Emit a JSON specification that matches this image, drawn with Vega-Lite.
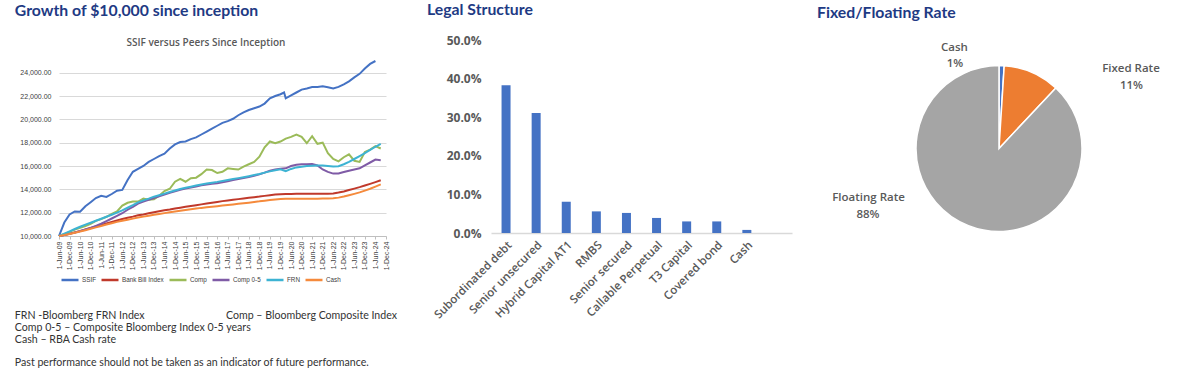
{
  "$schema": "https://vega.github.io/schema/vega-lite/v6.json",
  "background": "white",
  "padding": {"left": 14, "top": 2, "right": 5, "bottom": 5},
  "config": {
    "view": {"stroke": null},
    "font": "Open Sans",
    "title": {"font": "Lato", "fontSize": 15.8, "fontWeight": "bold", "color": "#1E3A84", "anchor": "start"}
  },
  "resolve": {"scale": {"color": "independent"}, "legend": {"color": "independent"}},
  "spacing": 29,
  "hconcat": [
    {
      "title": {"text": "Growth of $10,000 since inception", "frame": "bounds", "anchor": "start", "offset": 18},
      "vconcat": [
        {
          "title": {"text": "SSIF versus Peers Since Inception", "frame": "bounds", "anchor": "middle", "font": "Open Sans", "fontSize": 10, "fontWeight": 600, "color": "#595959", "offset": -8},
          "vconcat": [
            {
              "width": 327,
              "height": 196,
              "title": {
                "text": [
                  "FRN -Bloomberg FRN Index\u00a0\u00a0\u00a0\u00a0\u00a0\u00a0\u00a0\u00a0\u00a0\u00a0\u00a0\u00a0\u00a0\u00a0\u00a0\u00a0\u00a0\u00a0\u00a0\u00a0\u00a0\u00a0\u00a0\u00a0\u00a0\u00a0\u00a0\u00a0\u00a0\u00a0Comp \u2013 Bloomberg Composite Index",
                  "Comp 0-5 \u2013 Composite Bloomberg Index 0-5 years",
                  "Cash \u2013 RBA Cash rate"
                ],
                "subtitle": "Past performance should not be taken as an indicator of future performance.",
                "subtitleFont": "Lato", "subtitleFontSize": 10.6, "subtitleColor": "#333333", "subtitlePadding": 12,
                "orient": "bottom", "anchor": "start", "frame": "bounds", "font": "Lato", "fontSize": 10.6, "fontWeight": "normal", "color": "#333333", "offset": 41, "lineHeight": 12.2, "dx": -5
              },
              "data": {"values": [
                {"d":"2009-06-01","s":"SSIF","v":10000},{"d":"2009-09-01","s":"SSIF","v":11150},{"d":"2009-12-01","s":"SSIF","v":11850},{"d":"2010-03-01","s":"SSIF","v":12100},{"d":"2010-06-01","s":"SSIF","v":12080},{"d":"2010-09-01","s":"SSIF","v":12550},{"d":"2010-12-01","s":"SSIF","v":12900},{"d":"2011-03-01","s":"SSIF","v":13250},{"d":"2011-06-01","s":"SSIF","v":13450},{"d":"2011-09-01","s":"SSIF","v":13350},
                {"d":"2011-12-01","s":"SSIF","v":13600},{"d":"2012-03-01","s":"SSIF","v":13880},{"d":"2012-06-01","s":"SSIF","v":13950},{"d":"2012-09-01","s":"SSIF","v":14800},{"d":"2012-12-01","s":"SSIF","v":15500},{"d":"2013-03-01","s":"SSIF","v":15750},{"d":"2013-06-01","s":"SSIF","v":16000},{"d":"2013-09-01","s":"SSIF","v":16350},{"d":"2013-12-01","s":"SSIF","v":16600},{"d":"2014-03-01","s":"SSIF","v":16850},
                {"d":"2014-06-01","s":"SSIF","v":17050},{"d":"2014-09-01","s":"SSIF","v":17500},{"d":"2014-12-01","s":"SSIF","v":17850},{"d":"2015-03-01","s":"SSIF","v":18050},{"d":"2015-06-01","s":"SSIF","v":18100},{"d":"2015-09-01","s":"SSIF","v":18300},{"d":"2015-12-01","s":"SSIF","v":18450},{"d":"2016-03-01","s":"SSIF","v":18700},{"d":"2016-06-01","s":"SSIF","v":18950},{"d":"2016-09-01","s":"SSIF","v":19200},
                {"d":"2016-12-01","s":"SSIF","v":19450},{"d":"2017-03-01","s":"SSIF","v":19700},{"d":"2017-06-01","s":"SSIF","v":19850},{"d":"2017-09-01","s":"SSIF","v":20050},{"d":"2017-12-01","s":"SSIF","v":20350},{"d":"2018-03-01","s":"SSIF","v":20600},{"d":"2018-06-01","s":"SSIF","v":20800},{"d":"2018-09-01","s":"SSIF","v":20950},{"d":"2018-12-01","s":"SSIF","v":21100},{"d":"2019-03-01","s":"SSIF","v":21350},
                {"d":"2019-06-01","s":"SSIF","v":21800},{"d":"2019-09-01","s":"SSIF","v":22000},{"d":"2019-12-01","s":"SSIF","v":22150},{"d":"2020-02-01","s":"SSIF","v":22300},{"d":"2020-03-01","s":"SSIF","v":21800},{"d":"2020-06-01","s":"SSIF","v":22050},{"d":"2020-09-01","s":"SSIF","v":22300},{"d":"2020-12-01","s":"SSIF","v":22550},{"d":"2021-03-01","s":"SSIF","v":22650},{"d":"2021-06-01","s":"SSIF","v":22770},{"d":"2021-09-01","s":"SSIF","v":22780},
                {"d":"2021-12-01","s":"SSIF","v":22830},{"d":"2022-03-01","s":"SSIF","v":22750},{"d":"2022-06-01","s":"SSIF","v":22650},{"d":"2022-09-01","s":"SSIF","v":22780},{"d":"2022-12-01","s":"SSIF","v":23000},{"d":"2023-03-01","s":"SSIF","v":23250},{"d":"2023-06-01","s":"SSIF","v":23600},{"d":"2023-09-01","s":"SSIF","v":23900},{"d":"2023-12-01","s":"SSIF","v":24350},{"d":"2024-03-01","s":"SSIF","v":24750},
                {"d":"2024-06-01","s":"SSIF","v":25000},

                {"d":"2009-06-01","s":"Bank Bill Index","v":10000},{"d":"2009-09-01","s":"Bank Bill Index","v":10090},{"d":"2009-12-01","s":"Bank Bill Index","v":10190},{"d":"2010-03-01","s":"Bank Bill Index","v":10300},{"d":"2010-06-01","s":"Bank Bill Index","v":10420},{"d":"2010-09-01","s":"Bank Bill Index","v":10550},{"d":"2010-12-01","s":"Bank Bill Index","v":10680},{"d":"2011-03-01","s":"Bank Bill Index","v":10810},{"d":"2011-06-01","s":"Bank Bill Index","v":10940},{"d":"2011-09-01","s":"Bank Bill Index","v":11070},
                {"d":"2011-12-01","s":"Bank Bill Index","v":11200},{"d":"2012-03-01","s":"Bank Bill Index","v":11330},{"d":"2012-06-01","s":"Bank Bill Index","v":11450},{"d":"2012-09-01","s":"Bank Bill Index","v":11560},{"d":"2012-12-01","s":"Bank Bill Index","v":11660},{"d":"2013-03-01","s":"Bank Bill Index","v":11770},{"d":"2013-06-01","s":"Bank Bill Index","v":11850},{"d":"2013-09-01","s":"Bank Bill Index","v":11950},{"d":"2013-12-01","s":"Bank Bill Index","v":12040},{"d":"2014-03-01","s":"Bank Bill Index","v":12120},
                {"d":"2014-06-01","s":"Bank Bill Index","v":12200},{"d":"2014-09-01","s":"Bank Bill Index","v":12270},{"d":"2014-12-01","s":"Bank Bill Index","v":12350},{"d":"2015-03-01","s":"Bank Bill Index","v":12430},{"d":"2015-06-01","s":"Bank Bill Index","v":12500},{"d":"2015-09-01","s":"Bank Bill Index","v":12570},{"d":"2015-12-01","s":"Bank Bill Index","v":12640},{"d":"2016-03-01","s":"Bank Bill Index","v":12710},{"d":"2016-06-01","s":"Bank Bill Index","v":12780},{"d":"2016-09-01","s":"Bank Bill Index","v":12850},
                {"d":"2016-12-01","s":"Bank Bill Index","v":12920},{"d":"2017-03-01","s":"Bank Bill Index","v":12990},{"d":"2017-06-01","s":"Bank Bill Index","v":13040},{"d":"2017-09-01","s":"Bank Bill Index","v":13100},{"d":"2017-12-01","s":"Bank Bill Index","v":13160},{"d":"2018-03-01","s":"Bank Bill Index","v":13220},{"d":"2018-06-01","s":"Bank Bill Index","v":13280},{"d":"2018-09-01","s":"Bank Bill Index","v":13330},{"d":"2018-12-01","s":"Bank Bill Index","v":13380},{"d":"2019-03-01","s":"Bank Bill Index","v":13440},
                {"d":"2019-06-01","s":"Bank Bill Index","v":13500},{"d":"2019-09-01","s":"Bank Bill Index","v":13550},{"d":"2019-12-01","s":"Bank Bill Index","v":13580},{"d":"2020-03-01","s":"Bank Bill Index","v":13600},{"d":"2020-06-01","s":"Bank Bill Index","v":13610},{"d":"2020-09-01","s":"Bank Bill Index","v":13615},{"d":"2020-12-01","s":"Bank Bill Index","v":13620},{"d":"2021-03-01","s":"Bank Bill Index","v":13620},{"d":"2021-06-01","s":"Bank Bill Index","v":13625},{"d":"2021-09-01","s":"Bank Bill Index","v":13625},
                {"d":"2021-12-01","s":"Bank Bill Index","v":13630},{"d":"2022-03-01","s":"Bank Bill Index","v":13630},{"d":"2022-06-01","s":"Bank Bill Index","v":13650},{"d":"2022-09-01","s":"Bank Bill Index","v":13720},{"d":"2022-12-01","s":"Bank Bill Index","v":13820},{"d":"2023-03-01","s":"Bank Bill Index","v":13940},{"d":"2023-06-01","s":"Bank Bill Index","v":14060},{"d":"2023-09-01","s":"Bank Bill Index","v":14190},{"d":"2023-12-01","s":"Bank Bill Index","v":14330},{"d":"2024-03-01","s":"Bank Bill Index","v":14470},
                {"d":"2024-06-01","s":"Bank Bill Index","v":14620},{"d":"2024-09-01","s":"Bank Bill Index","v":14780},

                {"d":"2009-06-01","s":"Comp","v":10000},{"d":"2009-09-01","s":"Comp","v":10150},{"d":"2009-12-01","s":"Comp","v":10350},{"d":"2010-03-01","s":"Comp","v":10550},{"d":"2010-06-01","s":"Comp","v":10700},{"d":"2010-09-01","s":"Comp","v":10850},{"d":"2010-12-01","s":"Comp","v":11050},{"d":"2011-03-01","s":"Comp","v":11300},{"d":"2011-06-01","s":"Comp","v":11450},{"d":"2011-09-01","s":"Comp","v":11650},
                {"d":"2011-12-01","s":"Comp","v":11900},{"d":"2012-03-01","s":"Comp","v":12100},{"d":"2012-06-01","s":"Comp","v":12600},{"d":"2012-09-01","s":"Comp","v":12850},{"d":"2012-12-01","s":"Comp","v":12950},{"d":"2013-03-01","s":"Comp","v":12950},{"d":"2013-06-01","s":"Comp","v":13200},{"d":"2013-09-01","s":"Comp","v":13100},{"d":"2013-12-01","s":"Comp","v":13150},{"d":"2014-03-01","s":"Comp","v":13450},
                {"d":"2014-06-01","s":"Comp","v":13850},{"d":"2014-09-01","s":"Comp","v":14050},{"d":"2014-12-01","s":"Comp","v":14650},{"d":"2015-03-01","s":"Comp","v":14900},{"d":"2015-06-01","s":"Comp","v":14650},{"d":"2015-09-01","s":"Comp","v":14950},{"d":"2015-12-01","s":"Comp","v":15000},{"d":"2016-03-01","s":"Comp","v":15300},{"d":"2016-06-01","s":"Comp","v":15700},{"d":"2016-09-01","s":"Comp","v":15650},
                {"d":"2016-12-01","s":"Comp","v":15400},{"d":"2017-03-01","s":"Comp","v":15500},{"d":"2017-06-01","s":"Comp","v":15800},{"d":"2017-09-01","s":"Comp","v":15750},{"d":"2017-12-01","s":"Comp","v":15700},{"d":"2018-03-01","s":"Comp","v":15950},{"d":"2018-06-01","s":"Comp","v":16150},{"d":"2018-09-01","s":"Comp","v":16350},{"d":"2018-12-01","s":"Comp","v":16800},{"d":"2019-03-01","s":"Comp","v":17600},
                {"d":"2019-06-01","s":"Comp","v":18100},{"d":"2019-09-01","s":"Comp","v":17950},{"d":"2019-12-01","s":"Comp","v":18100},{"d":"2020-03-01","s":"Comp","v":18350},{"d":"2020-06-01","s":"Comp","v":18500},{"d":"2020-09-01","s":"Comp","v":18700},{"d":"2020-12-01","s":"Comp","v":18500},{"d":"2021-03-01","s":"Comp","v":17950},{"d":"2021-06-01","s":"Comp","v":18550},{"d":"2021-09-01","s":"Comp","v":17900},
                {"d":"2021-12-01","s":"Comp","v":18000},{"d":"2022-03-01","s":"Comp","v":17100},{"d":"2022-06-01","s":"Comp","v":16600},{"d":"2022-09-01","s":"Comp","v":16400},{"d":"2022-12-01","s":"Comp","v":16750},{"d":"2023-03-01","s":"Comp","v":17000},{"d":"2023-06-01","s":"Comp","v":16450},{"d":"2023-09-01","s":"Comp","v":16350},{"d":"2023-12-01","s":"Comp","v":17200},{"d":"2024-03-01","s":"Comp","v":17400},
                {"d":"2024-06-01","s":"Comp","v":17700},{"d":"2024-09-01","s":"Comp","v":17500},

                {"d":"2009-06-01","s":"Comp 0-5","v":10000},{"d":"2009-09-01","s":"Comp 0-5","v":10080},{"d":"2009-12-01","s":"Comp 0-5","v":10180},{"d":"2010-03-01","s":"Comp 0-5","v":10300},{"d":"2010-06-01","s":"Comp 0-5","v":10430},{"d":"2010-09-01","s":"Comp 0-5","v":10560},{"d":"2010-12-01","s":"Comp 0-5","v":10700},{"d":"2011-03-01","s":"Comp 0-5","v":10870},{"d":"2011-06-01","s":"Comp 0-5","v":11050},{"d":"2011-09-01","s":"Comp 0-5","v":11280},
                {"d":"2011-12-01","s":"Comp 0-5","v":11500},{"d":"2012-03-01","s":"Comp 0-5","v":11720},{"d":"2012-06-01","s":"Comp 0-5","v":11950},{"d":"2012-09-01","s":"Comp 0-5","v":12250},{"d":"2012-12-01","s":"Comp 0-5","v":12500},{"d":"2013-03-01","s":"Comp 0-5","v":12780},{"d":"2013-06-01","s":"Comp 0-5","v":12950},{"d":"2013-09-01","s":"Comp 0-5","v":13100},{"d":"2013-12-01","s":"Comp 0-5","v":13260},{"d":"2014-03-01","s":"Comp 0-5","v":13400},
                {"d":"2014-06-01","s":"Comp 0-5","v":13550},{"d":"2014-09-01","s":"Comp 0-5","v":13700},{"d":"2014-12-01","s":"Comp 0-5","v":13830},{"d":"2015-03-01","s":"Comp 0-5","v":13960},{"d":"2015-06-01","s":"Comp 0-5","v":14060},{"d":"2015-09-01","s":"Comp 0-5","v":14160},{"d":"2015-12-01","s":"Comp 0-5","v":14250},{"d":"2016-03-01","s":"Comp 0-5","v":14340},{"d":"2016-06-01","s":"Comp 0-5","v":14420},{"d":"2016-09-01","s":"Comp 0-5","v":14480},
                {"d":"2016-12-01","s":"Comp 0-5","v":14530},{"d":"2017-03-01","s":"Comp 0-5","v":14610},{"d":"2017-06-01","s":"Comp 0-5","v":14700},{"d":"2017-09-01","s":"Comp 0-5","v":14790},{"d":"2017-12-01","s":"Comp 0-5","v":14880},{"d":"2018-03-01","s":"Comp 0-5","v":14970},{"d":"2018-06-01","s":"Comp 0-5","v":15060},{"d":"2018-09-01","s":"Comp 0-5","v":15160},{"d":"2018-12-01","s":"Comp 0-5","v":15280},{"d":"2019-03-01","s":"Comp 0-5","v":15430},
                {"d":"2019-06-01","s":"Comp 0-5","v":15600},{"d":"2019-09-01","s":"Comp 0-5","v":15700},{"d":"2019-12-01","s":"Comp 0-5","v":15770},{"d":"2020-03-01","s":"Comp 0-5","v":15800},{"d":"2020-06-01","s":"Comp 0-5","v":16000},{"d":"2020-09-01","s":"Comp 0-5","v":16100},{"d":"2020-12-01","s":"Comp 0-5","v":16150},{"d":"2021-03-01","s":"Comp 0-5","v":16150},{"d":"2021-06-01","s":"Comp 0-5","v":16180},{"d":"2021-09-01","s":"Comp 0-5","v":16050},
                {"d":"2021-12-01","s":"Comp 0-5","v":15700},{"d":"2022-03-01","s":"Comp 0-5","v":15500},{"d":"2022-06-01","s":"Comp 0-5","v":15350},{"d":"2022-09-01","s":"Comp 0-5","v":15350},{"d":"2022-12-01","s":"Comp 0-5","v":15480},{"d":"2023-03-01","s":"Comp 0-5","v":15600},{"d":"2023-06-01","s":"Comp 0-5","v":15700},{"d":"2023-09-01","s":"Comp 0-5","v":15800},{"d":"2023-12-01","s":"Comp 0-5","v":16060},{"d":"2024-03-01","s":"Comp 0-5","v":16300},
                {"d":"2024-06-01","s":"Comp 0-5","v":16550},{"d":"2024-09-01","s":"Comp 0-5","v":16500},

                {"d":"2009-06-01","s":"FRN","v":10000},{"d":"2009-09-01","s":"FRN","v":10200},{"d":"2009-12-01","s":"FRN","v":10400},{"d":"2010-03-01","s":"FRN","v":10600},{"d":"2010-06-01","s":"FRN","v":10790},{"d":"2010-09-01","s":"FRN","v":10970},{"d":"2010-12-01","s":"FRN","v":11140},{"d":"2011-03-01","s":"FRN","v":11310},{"d":"2011-06-01","s":"FRN","v":11480},{"d":"2011-09-01","s":"FRN","v":11650},
                {"d":"2011-12-01","s":"FRN","v":11820},{"d":"2012-03-01","s":"FRN","v":12000},{"d":"2012-06-01","s":"FRN","v":12200},{"d":"2012-09-01","s":"FRN","v":12420},{"d":"2012-12-01","s":"FRN","v":12640},{"d":"2013-03-01","s":"FRN","v":12880},{"d":"2013-06-01","s":"FRN","v":13050},{"d":"2013-09-01","s":"FRN","v":13200},{"d":"2013-12-01","s":"FRN","v":13370},{"d":"2014-03-01","s":"FRN","v":13500},
                {"d":"2014-06-01","s":"FRN","v":13630},{"d":"2014-09-01","s":"FRN","v":13770},{"d":"2014-12-01","s":"FRN","v":13900},{"d":"2015-03-01","s":"FRN","v":14030},{"d":"2015-06-01","s":"FRN","v":14130},{"d":"2015-09-01","s":"FRN","v":14230},{"d":"2015-12-01","s":"FRN","v":14320},{"d":"2016-03-01","s":"FRN","v":14410},{"d":"2016-06-01","s":"FRN","v":14500},{"d":"2016-09-01","s":"FRN","v":14570},
                {"d":"2016-12-01","s":"FRN","v":14640},{"d":"2017-03-01","s":"FRN","v":14720},{"d":"2017-06-01","s":"FRN","v":14800},{"d":"2017-09-01","s":"FRN","v":14880},{"d":"2017-12-01","s":"FRN","v":14960},{"d":"2018-03-01","s":"FRN","v":15040},{"d":"2018-06-01","s":"FRN","v":15130},{"d":"2018-09-01","s":"FRN","v":15220},{"d":"2018-12-01","s":"FRN","v":15310},{"d":"2019-03-01","s":"FRN","v":15430},
                {"d":"2019-06-01","s":"FRN","v":15540},{"d":"2019-09-01","s":"FRN","v":15640},{"d":"2019-12-01","s":"FRN","v":15720},{"d":"2020-03-01","s":"FRN","v":15550},{"d":"2020-06-01","s":"FRN","v":15750},{"d":"2020-09-01","s":"FRN","v":15880},{"d":"2020-12-01","s":"FRN","v":15940},{"d":"2021-03-01","s":"FRN","v":15990},{"d":"2021-06-01","s":"FRN","v":16020},{"d":"2021-09-01","s":"FRN","v":16040},
                {"d":"2021-12-01","s":"FRN","v":16040},{"d":"2022-03-01","s":"FRN","v":16000},{"d":"2022-06-01","s":"FRN","v":15960},{"d":"2022-09-01","s":"FRN","v":15980},{"d":"2022-12-01","s":"FRN","v":16150},{"d":"2023-03-01","s":"FRN","v":16350},{"d":"2023-06-01","s":"FRN","v":16600},{"d":"2023-09-01","s":"FRN","v":16850},{"d":"2023-12-01","s":"FRN","v":17100},{"d":"2024-03-01","s":"FRN","v":17380},
                {"d":"2024-06-01","s":"FRN","v":17650},{"d":"2024-09-01","s":"FRN","v":17900},

                {"d":"2009-06-01","s":"Cash","v":10000},{"d":"2009-09-01","s":"Cash","v":10080},{"d":"2009-12-01","s":"Cash","v":10170},{"d":"2010-03-01","s":"Cash","v":10270},{"d":"2010-06-01","s":"Cash","v":10380},{"d":"2010-09-01","s":"Cash","v":10500},{"d":"2010-12-01","s":"Cash","v":10620},{"d":"2011-03-01","s":"Cash","v":10740},{"d":"2011-06-01","s":"Cash","v":10860},{"d":"2011-09-01","s":"Cash","v":10980},
                {"d":"2011-12-01","s":"Cash","v":11100},{"d":"2012-03-01","s":"Cash","v":11210},{"d":"2012-06-01","s":"Cash","v":11310},{"d":"2012-09-01","s":"Cash","v":11400},{"d":"2012-12-01","s":"Cash","v":11490},{"d":"2013-03-01","s":"Cash","v":11580},{"d":"2013-06-01","s":"Cash","v":11660},{"d":"2013-09-01","s":"Cash","v":11740},{"d":"2013-12-01","s":"Cash","v":11820},{"d":"2014-03-01","s":"Cash","v":11890},
                {"d":"2014-06-01","s":"Cash","v":11960},{"d":"2014-09-01","s":"Cash","v":12030},{"d":"2014-12-01","s":"Cash","v":12100},{"d":"2015-03-01","s":"Cash","v":12170},{"d":"2015-06-01","s":"Cash","v":12230},{"d":"2015-09-01","s":"Cash","v":12290},{"d":"2015-12-01","s":"Cash","v":12350},{"d":"2016-03-01","s":"Cash","v":12410},{"d":"2016-06-01","s":"Cash","v":12460},{"d":"2016-09-01","s":"Cash","v":12510},
                {"d":"2016-12-01","s":"Cash","v":12560},{"d":"2017-03-01","s":"Cash","v":12610},{"d":"2017-06-01","s":"Cash","v":12660},{"d":"2017-09-01","s":"Cash","v":12710},{"d":"2017-12-01","s":"Cash","v":12760},{"d":"2018-03-01","s":"Cash","v":12810},{"d":"2018-06-01","s":"Cash","v":12860},{"d":"2018-09-01","s":"Cash","v":12920},{"d":"2018-12-01","s":"Cash","v":12970},{"d":"2019-03-01","s":"Cash","v":13030},
                {"d":"2019-06-01","s":"Cash","v":13080},{"d":"2019-09-01","s":"Cash","v":13130},{"d":"2019-12-01","s":"Cash","v":13170},{"d":"2020-03-01","s":"Cash","v":13190},{"d":"2020-06-01","s":"Cash","v":13200},{"d":"2020-09-01","s":"Cash","v":13200},{"d":"2020-12-01","s":"Cash","v":13200},{"d":"2021-03-01","s":"Cash","v":13200},{"d":"2021-06-01","s":"Cash","v":13200},{"d":"2021-09-01","s":"Cash","v":13200},
                {"d":"2021-12-01","s":"Cash","v":13205},{"d":"2022-03-01","s":"Cash","v":13210},{"d":"2022-06-01","s":"Cash","v":13230},{"d":"2022-09-01","s":"Cash","v":13290},{"d":"2022-12-01","s":"Cash","v":13380},{"d":"2023-03-01","s":"Cash","v":13490},{"d":"2023-06-01","s":"Cash","v":13610},{"d":"2023-09-01","s":"Cash","v":13740},{"d":"2023-12-01","s":"Cash","v":13890},{"d":"2024-03-01","s":"Cash","v":14050},
                {"d":"2024-06-01","s":"Cash","v":14230},{"d":"2024-09-01","s":"Cash","v":14420}
              ]},
              "mark": {"type": "line", "strokeWidth": 2},
              "encoding": {
                "x": {
                  "field": "d", "type": "temporal",
                  "scale": {"domain": [{"year": 2009, "month": 6, "date": 1}, {"year": 2024, "month": 12, "date": 1}]},
                  "axis": {
                    "values": [
                      {"year":2009,"month":6,"date":1},{"year":2009,"month":12,"date":1},
                      {"year":2010,"month":6,"date":1},{"year":2010,"month":12,"date":1},
                      {"year":2011,"month":6,"date":1},{"year":2011,"month":12,"date":1},
                      {"year":2012,"month":6,"date":1},{"year":2012,"month":12,"date":1},
                      {"year":2013,"month":6,"date":1},{"year":2013,"month":12,"date":1},
                      {"year":2014,"month":6,"date":1},{"year":2014,"month":12,"date":1},
                      {"year":2015,"month":6,"date":1},{"year":2015,"month":12,"date":1},
                      {"year":2016,"month":6,"date":1},{"year":2016,"month":12,"date":1},
                      {"year":2017,"month":6,"date":1},{"year":2017,"month":12,"date":1},
                      {"year":2018,"month":6,"date":1},{"year":2018,"month":12,"date":1},
                      {"year":2019,"month":6,"date":1},{"year":2019,"month":12,"date":1},
                      {"year":2020,"month":6,"date":1},{"year":2020,"month":12,"date":1},
                      {"year":2021,"month":6,"date":1},{"year":2021,"month":12,"date":1},
                      {"year":2022,"month":6,"date":1},{"year":2022,"month":12,"date":1},
                      {"year":2023,"month":6,"date":1},{"year":2023,"month":12,"date":1},
                      {"year":2024,"month":6,"date":1},{"year":2024,"month":12,"date":1}
                    ],
                    "format": "%-d-%b-%y", "labelAngle": -90, "labelOverlap": false, "labelFlush": false,
                    "labelFontSize": 7, "labelFont": "Liberation Sans", "labelColor": "#404040", "labelPadding": 2,
                    "tickSize": 3, "tickColor": "#bfbfbf", "domainColor": "#bfbfbf", "grid": false, "title": null
                  }
                },
                "y": {
                  "field": "v", "type": "quantitative",
                  "scale": {"domain": [10000, 26800], "nice": false, "zero": false},
                  "axis": {
                    "values": [10000, 12000, 14000, 16000, 18000, 20000, 22000, 24000],
                    "format": ",.2f", "grid": true, "gridColor": "#d9d9d9", "domain": false, "ticks": false,
                    "labelFontSize": 7, "labelFont": "Liberation Sans", "labelColor": "#404040", "labelPadding": 8, "title": null
                  }
                },
                "color": {
                  "field": "s", "type": "nominal",
                  "scale": {"domain": ["SSIF", "Bank Bill Index", "Comp", "Comp 0-5", "FRN", "Cash"], "range": ["#4472C4", "#C0392B", "#9BBB59", "#7F5BA6", "#3DB3D3", "#F58A3C"]},
                  "legend": {
                    "orient": "none", "legendX": 1, "legendY": 230, "direction": "horizontal", "title": null,
                    "symbolType": "stroke", "symbolSize": 289, "symbolStrokeWidth": 2.5,
                    "labelFontSize": 6.3, "labelFont": "Liberation Sans", "labelColor": "#404040", "columnPadding": 0, "labelOffset": 2
                  }
                }
              }
            }
          ]
        }
      ]
    },
    {
      "spacing": 25,
      "hconcat": [
        {
          "title": {"text": "Legal Structure", "frame": "group", "anchor": "start", "dx": -64, "offset": 15},
          "width": 301,
          "height": 193,
          "data": {"values": [
            {"cat": "Subordinated debt", "pct": 0.383},
            {"cat": "Senior unsecured", "pct": 0.311},
            {"cat": "Hybrid Capital AT1", "pct": 0.081},
            {"cat": "RMBS", "pct": 0.056},
            {"cat": "Senior secured", "pct": 0.052},
            {"cat": "Callable Perpetual", "pct": 0.039},
            {"cat": "T3 Capital", "pct": 0.030},
            {"cat": "Covered bond", "pct": 0.030},
            {"cat": "Cash", "pct": 0.008}
          ]},
          "mark": {"type": "bar", "width": 9, "color": "#4472C4"},
          "encoding": {
            "x": {
              "field": "cat", "type": "nominal",
              "scale": {"domain": ["Subordinated debt", "Senior unsecured", "Hybrid Capital AT1", "RMBS", "Senior secured", "Callable Perpetual", "T3 Capital", "Covered bond", "Cash", " "], "paddingInner": 0, "paddingOuter": 0},
              "axis": {
                "labelAngle": -45, "labelFontSize": 11.5, "labelFont": "Open Sans", "labelFontWeight": 600, "labelColor": "#595959",
                "ticks": false, "domainColor": "#d9d9d9", "domainWidth": 1.5, "labelPadding": 6, "title": null, "labelOverlap": false
              }
            },
            "y": {
              "field": "pct", "type": "quantitative",
              "scale": {"domain": [0, 0.5]},
              "axis": {
                "values": [0, 0.1, 0.2, 0.3, 0.4, 0.5], "format": ".1%", "grid": false, "domain": false, "ticks": false,
                "labelFontSize": 12, "labelFont": "Open Sans", "labelFontWeight": "bold", "labelColor": "#595959", "labelPadding": 10, "title": null
              }
            }
          }
        },
        {
          "title": {"text": "Fixed/Floating Rate", "frame": "group", "anchor": "start", "dx": -79, "offset": 18},
          "width": 206,
          "height": 217,
          "data": {"values": [
            {"type": "Cash", "pct": 0.01},
            {"type": "Fixed Rate", "pct": 0.11},
            {"type": "Floating Rate", "pct": 0.88}
          ]},
          "transform": [{"stack": "pct", "groupby": [], "sort": [{"field": "type", "order": "ascending"}], "as": ["p0", "p1"]}],
          "layer": [
            {
              "mark": {"type": "arc", "outerRadius": 83, "stroke": "white", "strokeWidth": 1.5},
              "encoding": {
                "theta": {"field": "p0", "type": "quantitative", "scale": {"domain": [0, 1]}},
                "theta2": {"field": "p1"},
                "color": {"field": "type", "type": "nominal", "scale": {"domain": ["Cash", "Fixed Rate", "Floating Rate"], "range": ["#4472C4", "#ED7D31", "#A5A5A5"]}, "legend": null}
              }
            },
            {
              "transform": [{"filter": "datum.type === 'Cash'"}],
              "mark": {"type": "text", "radius": 100, "dx": -44.5, "dy": -0.3, "font": "Open Sans", "fontSize": 11.5, "fontWeight": 600, "color": "#595959"},
              "encoding": {"theta": {"field": "p0", "type": "quantitative"}, "text": {"field": "type"}}
            },
            {
              "transform": [{"filter": "datum.type === 'Cash'"}],
              "mark": {"type": "text", "radius": 100, "dx": -44, "dy": 15.7, "font": "Open Sans", "fontSize": 11.5, "fontWeight": 600, "color": "#595959"},
              "encoding": {"theta": {"field": "p0", "type": "quantitative"}, "text": {"field": "pct", "format": ".0%"}}
            },
            {
              "transform": [{"filter": "datum.type === 'Fixed Rate'"}],
              "mark": {"type": "text", "radius": 100, "dx": 63.5, "dy": -6.4, "font": "Open Sans", "fontSize": 11.5, "fontWeight": 600, "color": "#595959"},
              "encoding": {"theta": {"field": "p1", "type": "quantitative"}, "text": {"field": "type"}}
            },
            {
              "transform": [{"filter": "datum.type === 'Fixed Rate'"}],
              "mark": {"type": "text", "radius": 100, "dx": 64, "dy": 10.6, "font": "Open Sans", "fontSize": 11.5, "fontWeight": 600, "color": "#595959"},
              "encoding": {"theta": {"field": "p1", "type": "quantitative"}, "text": {"field": "pct", "format": ".0%"}}
            },
            {
              "transform": [{"filter": "datum.type === 'Floating Rate'"}],
              "mark": {"type": "text", "radius": 0, "dx": -130.5, "dy": 49.7, "font": "Open Sans", "fontSize": 11.5, "fontWeight": 600, "color": "#595959"},
              "encoding": {"theta": {"field": "p1", "type": "quantitative"}, "text": {"field": "type"}}
            },
            {
              "transform": [{"filter": "datum.type === 'Floating Rate'"}],
              "mark": {"type": "text", "radius": 0, "dx": -131, "dy": 66.7, "font": "Open Sans", "fontSize": 11.5, "fontWeight": 600, "color": "#595959"},
              "encoding": {"theta": {"field": "p1", "type": "quantitative"}, "text": {"field": "pct", "format": ".0%"}}
            }
          ]
        }
      ]
    }
  ]
}
